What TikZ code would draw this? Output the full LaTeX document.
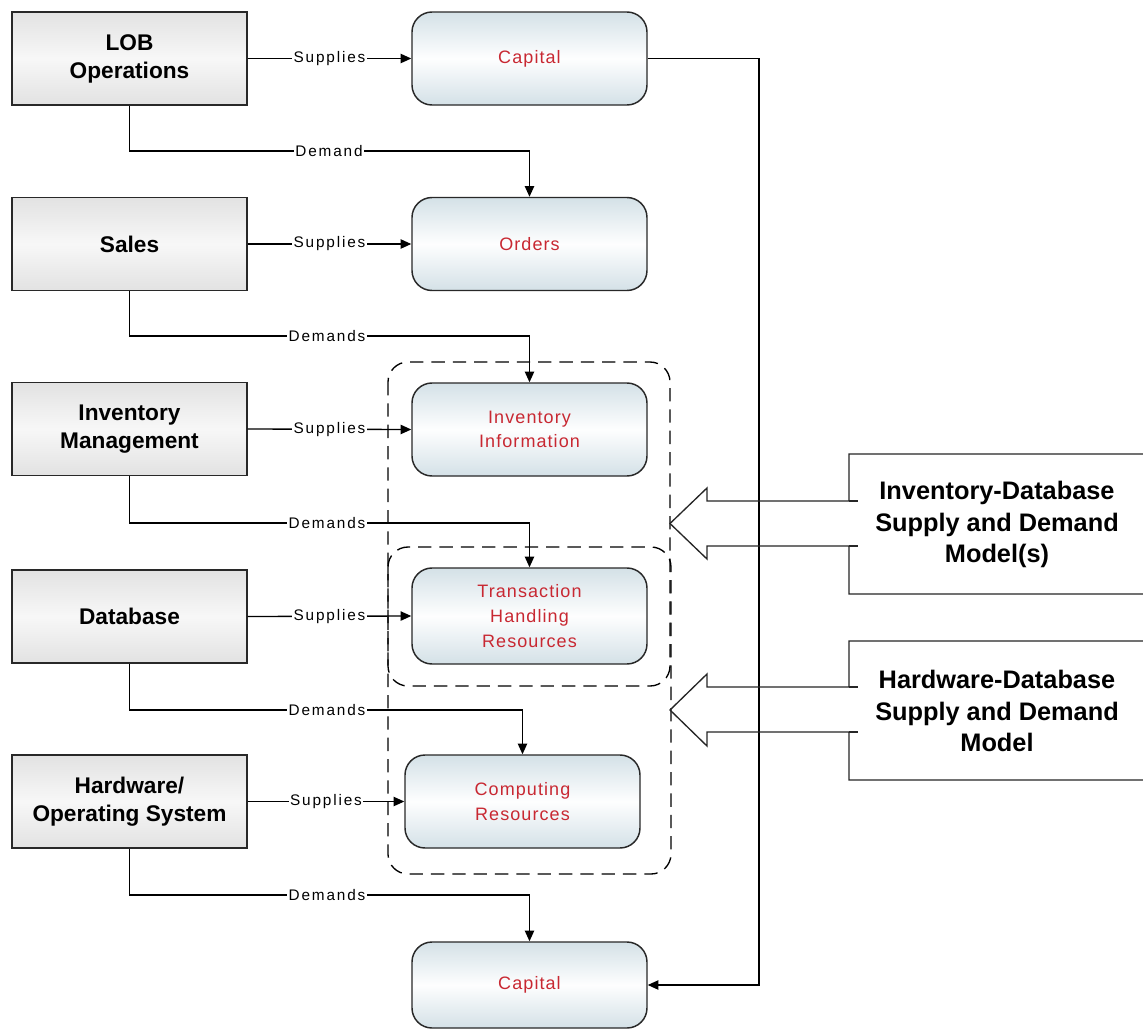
\documentclass[tikz,border=0pt]{standalone}
\usepackage{fontspec}
\setmainfont{Liberation Sans}
\newfontfamily\lblfont[LetterSpace=12]{Liberation Sans}
\newfontfamily\redfont[LetterSpace=6]{Liberation Sans}
\usetikzlibrary{arrows.meta}
\definecolor{boxline}{RGB}{40,40,40}
\definecolor{redtxt}{RGB}{200,40,50}
\definecolor{bluegray}{RGB}{212,225,231}
\definecolor{lgray}{RGB}{226,226,226}
\tikzset{
  leftbox/.style={draw=boxline, line width=1.1pt, minimum width=176.25pt, minimum height=69.75pt,
    top color=lgray, bottom color=lgray, middle color=white!97!black, align=center,
    font=\fontsize{17}{21}\selectfont\bfseries, inner sep=0pt},
  resbox/.style={draw=boxline, line width=1.1pt, rounded corners=15pt, minimum width=176.25pt,
    minimum height=69.75pt, top color=bluegray, bottom color=bluegray, middle color=white!97!bluegray,
    align=center, text=redtxt, font=\redfont\fontsize{13.5}{18.5}\selectfont, inner sep=0pt},
  conn/.style={draw=black, line width=1pt, -{Triangle[length=8pt,width=7pt]}},
  lbl/.style={fill=white, inner sep=1pt, font=\lblfont\fontsize{11.5}{13}\selectfont},
  grp/.style={draw=black, line width=1pt, dash pattern=on 10pt off 6pt, rounded corners=15pt},
  bigarrow/.style={draw=black!85, line width=1pt},
  modeltxt/.style={align=center, font=\fontsize{19}{23.6}\selectfont\bfseries}
}
\begin{document}
\begin{tikzpicture}[x=0.75pt,y=-0.75pt]
\useasboundingbox (0,0) rectangle (1143,1032);
\fill[white] (0,0) rectangle (1143,1032);

% dashed groups
\draw[grp] (388,362) rectangle (670,686);
\draw[grp] (388,547) rectangle (671,874);

% left boxes
\node[leftbox] (lob)   at (129.5,58.5)  {LOB\\Operations};
\node[leftbox] (sales) at (129.5,244)   {Sales};
\node[leftbox] (invm)  at (129.5,429)   {Inventory\\Management};
\node[leftbox] (db)    at (129.5,616.5) {Database};
\node[leftbox] (hw)    at (129.5,801.5) {Hardware/\\Operating System};

% resource boxes
\node[resbox] (cap1)    at (529.5,58.5)  {Capital};
\node[resbox] (orders)  at (529.5,244)   {Orders};
\node[resbox] (invinfo) at (529.5,429.5) {Inventory\\Information};
\node[resbox, minimum height=72pt] (trans) at (529.5,616) {Transaction\\Handling\\Resources};
\node[resbox] (comp)    at (522.5,801.5) {Computing\\Resources};
\node[resbox, minimum height=64.5pt] (cap2) at (529.5,985) {Capital};

% capital loop
\coordinate (loopt) at (759,58.5);
\draw[conn] (cap1.east) -- (loopt) |- (cap2.east);

% model boxes with arrows
\draw[bigarrow] (1150,454) -- (849,454) -- (849,501) -- (707,501) -- (707,488) -- (670,523.5)
  -- (707,559) -- (707,546) -- (849,546) -- (849,594) -- (1150,594);
\draw[bigarrow] (849,501) -- (858,501) (849,546) -- (858,546);
\draw[bigarrow] (1150,641) -- (849,641) -- (849,687) -- (707,687) -- (707,674) -- (670,710)
  -- (707,746) -- (707,732) -- (849,732) -- (849,780) -- (1150,780);
\draw[bigarrow] (849,687) -- (858,687) (849,732) -- (858,732);
\node[modeltxt] (m1) at (997,524.5) {Inventory-Database\\Supply and Demand\\Model(s)};
\node[modeltxt] (m2) at (997,711) {Hardware-Database\\Supply and Demand\\Model};

% supplies connectors
\draw[conn] (lob.east)   -- node[lbl] (s1) {Supplies} (cap1.west);
\draw[conn] (sales.east) -- node[lbl] (s2) {Supplies} (orders.west);
\draw[conn] (invm.east)  -- node[lbl] (s3) {Supplies} (invinfo.west);
\draw[conn] (db.east)    -- node[lbl] (s4) {Supplies} (trans.west);
\draw[conn] (hw.east)    -- node[lbl] (s5) {Supplies} (comp.west);

% demand connectors
\coordinate (d1) at (329,151);
\coordinate (d2) at (327,336);
\coordinate (d3) at (327,523);
\coordinate (d4) at (327,710);
\coordinate (d5) at (327,895);
\draw[conn] (lob.south)   |- (d1) -| (orders.north);
\draw[conn] (sales.south) |- (d2) -| (invinfo.north);
\draw[conn] (invm.south)  |- (d3) -| (trans.north);
\draw[conn] (db.south)    |- (d4) -| (comp.north);
\draw[conn] (hw.south)    |- (d5) -| (cap2.north);
\node[lbl] (l1) at (d1) {Demand};
\node[lbl] (l2) at (d2) {Demands};
\node[lbl] (l3) at (d3) {Demands};
\node[lbl] (l4) at (d4) {Demands};
\node[lbl] (l5) at (d5) {Demands};
\end{tikzpicture}
\end{document}
